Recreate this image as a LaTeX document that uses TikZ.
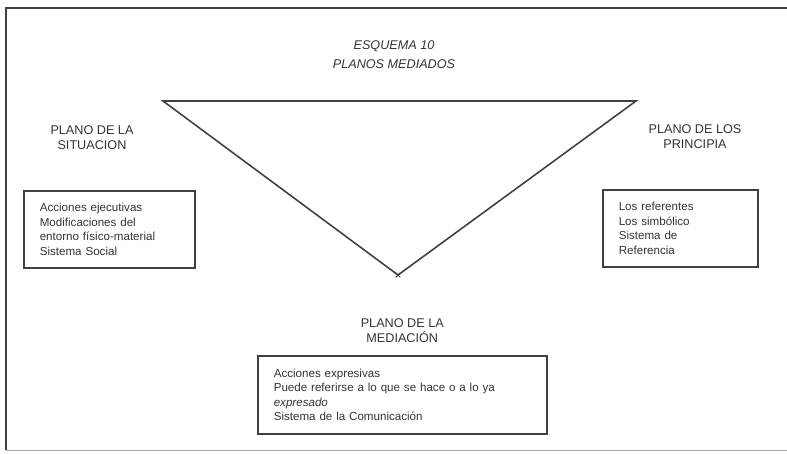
\documentclass[tikz,border=0pt]{standalone}
\usepackage{fontspec}
\setmainfont{Liberation Sans}
\usetikzlibrary{positioning,shapes.misc}

\begin{document}
\begin{tikzpicture}[x=0.02cm, y=-0.02cm, line width=0.9pt, draw=black!75,
  every node/.style={text=black!80, font=\fontsize{7.2}{8.4}\selectfont},
  caja/.style={draw, rectangle, anchor=north west, inner xsep=0.32cm, inner ysep=0pt, align=left,
    font=\fontsize{6.6}{8.3}\selectfont},
  plano/.style={align=center, inner sep=1pt},
  titulo/.style={align=center, font=\fontsize{7.2}{8.4}\selectfont\itshape}]
\useasboundingbox (0,0) rectangle (787,453);
\draw (787,8) -- (6,8) -- (6,450);
\draw[black!35, line width=0.5pt] (6,450) -- (787,450);
\node[titulo] (esq) at (394,55) {ESQUEMA 10\\[2.5pt] PLANOS MEDIADOS};
\coordinate (tl) at (163,101);
\coordinate (tr) at (636,101);
\coordinate (tip) at (398,275);
\draw (tl) -- (tr) -- (tip) -- cycle;
\node[cross out, draw, line width=0.6pt, minimum size=0.07cm, inner sep=0pt] (tipmark) at (tip) {};
\node[plano] (sit) at (92,138) {PLANO DE LA\\ SITUACION};
\node[plano] (pri) at (695,137) {PLANO DE LOS\\ PRINCIPIA};
\node[caja, minimum width=3.42cm, minimum height=1.54cm, text width=2.78cm] (sitbox) at (23,190)
  {Acciones ejecutivas\\ Modificaciones del\\ entorno físico-material\\ Sistema Social};
\node[caja, minimum width=3.10cm, minimum height=1.54cm, text width=2.46cm] (pribox) at (602,189)
  {Los referentes\\ Los simbólico\\ Sistema de\\ Referencia};
\node[caja, minimum width=5.78cm, minimum height=1.56cm, text width=5.14cm] (medbox) at (257,355)
  {Acciones expresivas\\ Puede referirse a lo que se hace o a lo ya\\ \textit{expresado}\\ Sistema de la Comunicación};
\node[plano, above=0.2cm of medbox] (med) {PLANO DE LA\\ MEDIACIÓN};
\end{tikzpicture}
\end{document}
